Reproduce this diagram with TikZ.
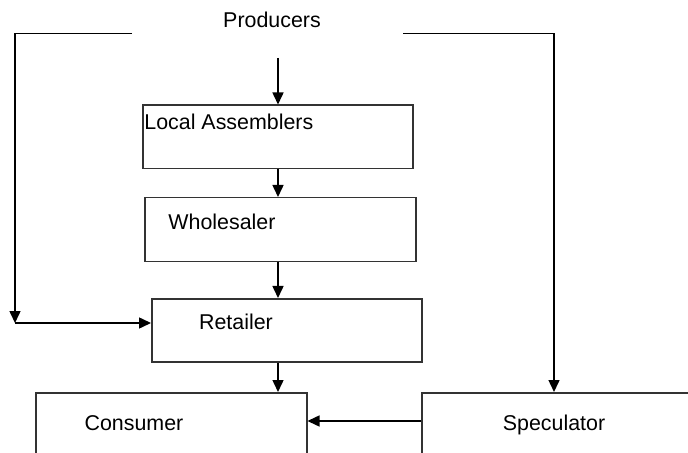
\documentclass[tikz,border=0pt]{standalone}
\usepackage{fontspec}
\setmainfont{Liberation Sans}
\usetikzlibrary{arrows.meta}

\begin{document}
\begin{tikzpicture}[x=0.5pt,y=-0.5pt,
    font=\fontsize{10.7}{12}\selectfont,
    every node/.style={text height=0.72em, text depth=0pt},
    stage/.style={draw=black!80, line width=0.75pt, anchor=north west, inner sep=0pt, minimum width=135pt},
    flow/.style={line width=0.75pt, -{Triangle[length=6pt,width=5.5pt]}}]
            \useasboundingbox (0,0) rectangle (688,453);
            \clip (0,0) rectangle (688,453);

            % boxes
            \node[stage, minimum height=31.75pt] (la) at (142,104.5) {};
            \node[stage, minimum width=135.5pt, minimum height=32pt] (ws) at (144,197) {};
            \node[stage, minimum height=31.5pt] (rt) at (151,298) {};
            \node[stage, minimum width=135.5pt, minimum height=50pt] (cs) at (35,392) {};
            \node[stage, minimum width=160pt, minimum height=50pt] (sp) at (421,392) {};

            % labels
            \node (prod) at (272,20) {Producers};
            \node[anchor=west, inner sep=0pt] (lat) at (144,122) {Local Assemblers};
            \node[anchor=west, inner sep=0pt] (wst) at (168,222) {Wholesaler};
            \node (rtt) at (236,322) {Retailer};
            \node (cst) at (134,423) {Consumer};
            \node (spt) at (554,423) {Speculator};

            \coordinate (pl) at (132,33.5);
            \coordinate (pr) at (403,33.5);
            \coordinate (sr) at (554,33.5);
            \coordinate (pd) at (278,58);
            \coordinate (turn) at (15,323);
            \coordinate (mid) at (0,421);

            \draw[flow] (pd) -- (pd |- la.north);
            \draw[flow] (la.south -| pd) -- (ws.north -| pd);
            \draw[flow] (ws.south -| pd) -- (rt.north -| pd);
            \draw[flow] (rt.south -| pd) -- (cs.north -| pd);
            \draw[flow] (pl) -- (pl -| turn) -- (turn);
            \draw[flow] (turn) -- (turn -| rt.west);
            \draw[flow] (pr) -- (sr) -- (sr |- sp.north);
            \draw[flow] (sp.west |- mid) -- (cs.east |- mid);

        \end{tikzpicture}
\end{document}
